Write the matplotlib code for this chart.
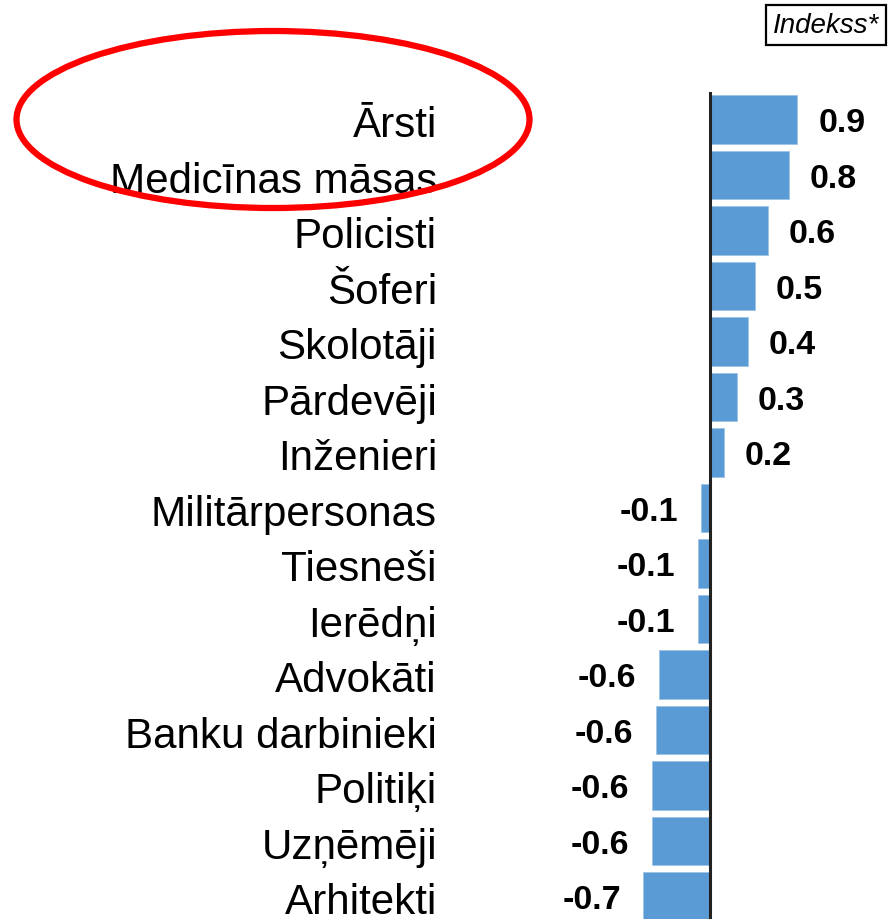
import matplotlib
matplotlib.use("Agg")
import matplotlib.pyplot as plt
import matplotlib.transforms as mtransforms
from matplotlib.patches import Ellipse

plt.rcParams['font.family'] = ['Liberation Sans', 'DejaVu Sans']

# data
professions = ['Ārsti', 'Medicīnas māsas', 'Policisti', 'Šoferi', 'Skolotāji',
               'Pārdevēji', 'Inženieri', 'Militārpersonas', 'Tiesneši', 'Ierēdņi',
               'Advokāti', 'Banku darbinieki', 'Politiķi', 'Uzņēmēji', 'Arhitekti']
index_values = [0.90, 0.81, 0.60, 0.46, 0.39, 0.28, 0.145, -0.096, -0.124, -0.124,
                -0.53, -0.56, -0.60, -0.60, -0.69]
value_labels = ['0.9', '0.8', '0.6', '0.5', '0.4', '0.3', '0.2', '-0.1', '-0.1', '-0.1',
                '-0.6', '-0.6', '-0.6', '-0.6', '-0.7']

W, H = 890, 920
fig = plt.figure(figsize=(W / 100, H / 100), dpi=100)
ax = fig.add_axes([0, 0, 1, (H - 93) / H])

px_per_unit = 97.0
zero_px = 710
ax.set_xlim(-zero_px / px_per_unit, (W - zero_px) / px_per_unit)
ax.set_ylim(14.405, -0.495)

pos = list(range(len(professions)))
ax.barh(pos, index_values, height=0.88, color='#5B9BD5', edgecolor='#9DC3E6', linewidth=0.6)
ax.axvline(0, color='#222222', lw=2.2)

for s in ax.spines.values():
    s.set_visible(False)
ax.set_xticks([])
ax.set_yticks([])

# category names, right aligned at a fixed figure position
trans = mtransforms.blended_transform_factory(fig.transFigure, ax.transData)
for y, name in zip(pos, professions):
    ax.text(437 / W, y + 0.1, name, transform=trans, ha='right', va='center',
            fontsize=30.3, color='black')

for y, v, lab in zip(pos, index_values, value_labels):
    off = 15 if v > 0 else -16
    ax.annotate(lab, xy=(v, y + 0.06), xytext=(off, 0), textcoords='offset points',
                ha='left' if v > 0 else 'right', va='center',
                fontsize=24.5, fontweight='bold', color='black')

fig.text(826 / W, 1 - 26 / H, 'Indekss*', ha='center', va='center', fontsize=20,
         style='italic',
         bbox=dict(boxstyle='square,pad=0.25', fc='white', ec='black', lw=1.6))

# red highlight ellipse
fig.add_artist(Ellipse((273 / W, 1 - 120.5 / H), 513 / W, 177 / H,
                       transform=fig.transFigure, fill=False, ec='#FF0000', lw=4.5))

fig.savefig('out.png', dpi=100)
